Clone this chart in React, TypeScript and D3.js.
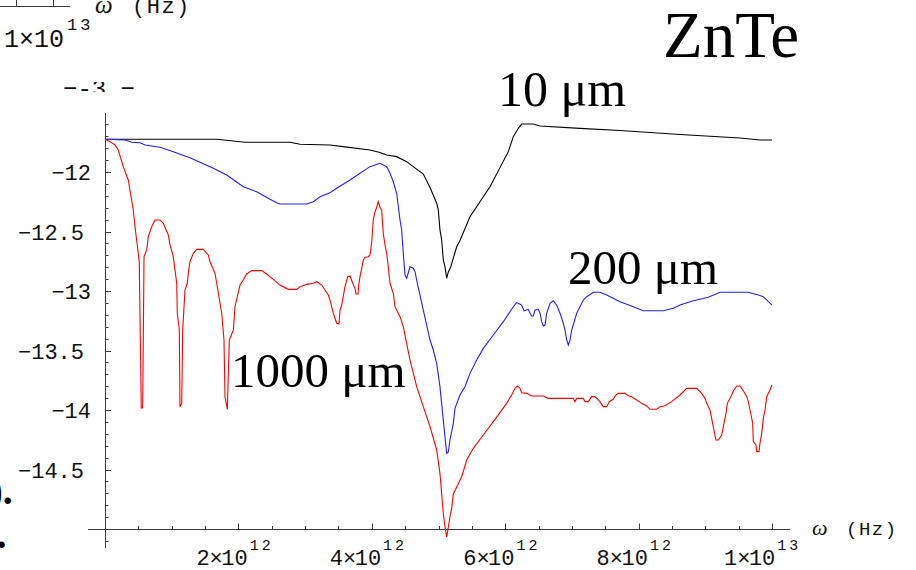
import React from "react";
import * as d3 from "d3";

// ω in units of 10^12 Hz, value = log10 of the quantity
const curve10um: [number, number][] = [
  [0, -11.725], [1.675, -11.725], [2.099, -11.75], [2.774, -11.75], [2.924, -11.767], [3.373, -11.773],
  [3.568, -11.787], [3.973, -11.815], [4.123, -11.836], [4.223, -11.857], [4.373, -11.871], [4.523, -11.913],
  [4.622, -11.955], [4.772, -12.017], [4.873, -12.13], [4.973, -12.263], [4.997, -12.319], [5.022, -12.487],
  [5.048, -12.571], [5.072, -12.739], [5.097, -12.796], [5.123, -12.893], [5.147, -12.84], [5.183, -12.798],
  [5.222, -12.723], [5.273, -12.628], [5.322, -12.576], [5.472, -12.376], [5.772, -12.124], [6.047, -11.829],
  [6.121, -11.703], [6.196, -11.633], [6.247, -11.597], [6.421, -11.597], [6.522, -11.613], [7.121, -11.633],
  [7.721, -11.651], [8.621, -11.685], [9.52, -11.714], [9.82, -11.731], [10.0, -11.731],
];

const curve200um: [number, number][] = [
  [0, -11.725], [0.3, -11.731], [0.4, -11.75], [0.525, -11.754], [0.6, -11.773], [0.825, -11.792],
  [1.024, -11.829], [1.274, -11.88], [1.424, -11.918], [1.624, -11.969], [1.825, -12.025], [2.073, -12.124],
  [2.274, -12.166], [2.474, -12.229], [2.574, -12.258], [2.624, -12.269], [3.024, -12.269], [3.123, -12.25],
  [3.223, -12.208], [3.373, -12.174], [3.474, -12.137], [3.673, -12.067], [3.823, -12.011], [3.973, -11.955],
  [4.123, -11.927], [4.223, -11.955], [4.273, -12.011], [4.322, -12.082], [4.373, -12.179], [4.423, -12.403],
  [4.448, -12.487], [4.472, -12.683], [4.498, -12.866], [4.523, -12.893], [4.573, -12.796], [4.622, -12.809],
  [4.648, -12.838], [4.673, -12.908], [4.772, -13.16], [4.873, -13.412], [4.922, -13.496], [4.973, -13.608],
  [5.022, -13.804], [5.072, -14.084], [5.097, -14.224], [5.123, -14.364], [5.147, -14.353], [5.172, -14.252],
  [5.222, -14.112], [5.247, -13.986], [5.322, -13.874], [5.397, -13.804], [5.472, -13.692], [5.573, -13.58],
  [5.672, -13.482], [5.822, -13.37], [5.972, -13.258], [6.121, -13.132], [6.172, -13.098], [6.196, -13.103],
  [6.247, -13.118], [6.282, -13.166], [6.346, -13.154], [6.372, -13.187], [6.397, -13.21], [6.421, -13.21],
  [6.447, -13.16], [6.496, -13.154], [6.522, -13.187], [6.547, -13.258], [6.571, -13.294], [6.597, -13.286],
  [6.622, -13.187], [6.672, -13.103], [6.721, -13.082], [6.772, -13.118], [6.822, -13.187], [6.871, -13.271],
  [6.897, -13.328], [6.922, -13.412], [6.946, -13.454], [6.972, -13.412], [6.997, -13.328], [7.072, -13.187],
  [7.171, -13.076], [7.222, -13.048], [7.321, -13.011], [7.421, -13.011], [7.522, -13.034], [7.721, -13.09],
  [7.921, -13.132], [8.07, -13.166], [8.37, -13.166], [8.52, -13.145], [8.621, -13.118], [8.82, -13.082],
  [9.045, -13.053], [9.22, -13.011], [9.645, -13.011], [9.795, -13.034], [9.87, -13.048], [10.0, -13.118],
];

const curve1000um: [number, number][] = [
  [0, -11.725], [0.075, -11.745], [0.15, -11.773], [0.199, -11.815], [0.274, -11.955], [0.349, -12.067],
  [0.424, -12.319], [0.45, -12.46], [0.499, -12.683], [0.514, -12.767], [0.544, -13.983], [0.565, -13.983],
  [0.585, -12.712], [0.625, -12.655], [0.649, -12.544], [0.7, -12.46], [0.75, -12.403], [0.825, -12.403],
  [0.874, -12.431], [0.949, -12.529], [0.975, -12.613], [1.024, -12.712], [1.075, -12.935], [1.084, -13.187],
  [1.114, -13.328], [1.124, -13.972], [1.15, -13.944], [1.165, -13.328], [1.199, -12.992], [1.234, -12.935],
  [1.249, -12.851], [1.274, -12.754], [1.324, -12.683], [1.375, -12.65], [1.474, -12.65], [1.549, -12.697],
  [1.574, -12.754], [1.649, -12.851], [1.675, -12.935], [1.75, -13.187], [1.784, -13.412], [1.799, -13.888],
  [1.834, -13.994], [1.864, -13.412], [1.924, -13.328], [1.949, -13.132], [2.024, -12.95], [2.073, -12.908],
  [2.124, -12.857], [2.199, -12.829], [2.349, -12.829], [2.424, -12.857], [2.523, -12.902], [2.624, -12.95],
  [2.748, -12.986], [2.874, -12.986], [2.924, -12.964], [3.024, -12.944], [3.123, -12.935], [3.174, -12.922],
  [3.249, -12.95], [3.298, -12.992], [3.348, -13.034], [3.373, -13.076], [3.423, -13.187], [3.474, -13.271],
  [3.508, -13.277], [3.523, -13.16], [3.549, -13.118], [3.598, -12.964], [3.639, -12.88], [3.673, -12.874],
  [3.714, -12.935], [3.748, -12.977], [3.763, -13.025], [3.793, -13.025], [3.804, -12.95], [3.823, -12.88],
  [3.849, -12.809], [3.873, -12.739], [3.898, -12.717], [3.948, -12.712], [3.973, -12.697], [3.999, -12.586],
  [4.022, -12.403], [4.048, -12.334], [4.073, -12.297], [4.097, -12.25], [4.123, -12.297], [4.148, -12.319],
  [4.172, -12.515], [4.198, -12.613], [4.223, -12.683], [4.247, -12.796], [4.273, -12.935], [4.322, -13.019],
  [4.348, -13.132], [4.373, -13.16], [4.423, -13.216], [4.472, -13.3], [4.573, -13.58], [4.673, -13.804],
  [4.772, -13.972], [4.873, -14.14], [4.973, -14.336], [5.022, -14.532], [5.072, -14.868], [5.097, -14.981],
  [5.123, -15.067], [5.147, -14.983], [5.172, -14.897], [5.198, -14.826], [5.222, -14.706], [5.273, -14.647],
  [5.348, -14.561], [5.423, -14.42], [5.522, -14.322], [5.672, -14.21], [5.822, -14.098], [6.022, -13.944],
  [6.097, -13.874], [6.147, -13.818], [6.182, -13.798], [6.222, -13.818], [6.247, -13.855], [6.322, -13.86],
  [6.397, -13.882], [6.571, -13.882], [6.646, -13.902], [7.021, -13.902], [7.046, -13.93], [7.072, -13.902],
  [7.171, -13.902], [7.196, -13.93], [7.246, -13.93], [7.297, -13.888], [7.346, -13.888], [7.421, -13.93],
  [7.471, -13.972], [7.522, -13.972], [7.561, -13.93], [7.621, -13.908], [7.661, -13.874], [7.696, -13.86],
  [7.796, -13.86], [7.846, -13.88], [7.896, -13.888], [7.971, -13.916], [8.046, -13.944], [8.121, -13.966],
  [8.171, -13.994], [8.271, -13.994], [8.321, -13.972], [8.396, -13.964], [8.496, -13.93], [8.621, -13.874],
  [8.721, -13.818], [8.871, -13.818], [8.946, -13.86], [8.996, -13.902], [9.021, -13.944], [9.07, -14.0],
  [9.12, -14.14], [9.16, -14.252], [9.195, -14.252], [9.246, -14.21], [9.28, -14.112], [9.31, -14.028],
  [9.33, -13.944], [9.396, -13.874], [9.42, -13.84], [9.471, -13.798], [9.52, -13.798], [9.58, -13.846],
  [9.621, -13.888], [9.645, -13.93], [9.67, -14.0], [9.711, -14.112], [9.72, -14.266], [9.76, -14.294],
  [9.771, -14.35], [9.805, -14.35], [9.82, -14.28], [9.846, -14.196], [9.87, -14.07], [9.895, -14.0],
  [9.921, -13.888], [9.97, -13.832], [10.0, -13.79],
];

const xMajorTicks = [2, 4, 6, 8, 10];
const xMajorLabels = [["2", "12"], ["4", "12"], ["6", "12"], ["8", "12"], ["1", "13"]];
const yMajorTicks = [-14.5, -14, -13.5, -13, -12.5, -12];
const yMajorLabels = ["\u221214.5", "\u221214", "\u221213.5", "\u221213", "\u221212.5", "\u221212"];
const curveLabels = ["10 \u03bcm", "200 \u03bcm", "1000 \u03bcm"];
const titleText = "ZnTe";

const W = 916;
const H = 570;
const MONO = "'Liberation Mono', 'DejaVu Sans Mono', monospace";
const SERIF = "'Liberation Serif', 'DejaVu Serif', serif";

export default function App() {
  const x = d3.scaleLinear().domain([0, 10]).range([105, 772]);
  const y = d3.scaleLinear().domain([-15, -12]).range([529, 172]);
  const xAxisY = y(-15);
  const yAxisX = x(0);

  const line = d3
    .line<[number, number]>()
    .x((d) => x(d[0]))
    .y((d) => y(d[1]));

  const xMinor = d3.range(1, 21).map((i) => i * 0.5).filter((v) => !xMajorTicks.includes(v));
  const yMinor = d3
    .range(-151, -115)
    .map((i) => i / 10)
    .filter((v) => Math.abs(v + 15) > 1e-6 && !yMajorTicks.some((m) => Math.abs(m - v) < 1e-6));

  const axisColor = "#3a3a3a";

  return (
    <svg
      width={W}
      height={H}
      style={{ position: "absolute", left: 0, top: 0, background: "#fff" }}
    >
      <defs>
        <clipPath id="fragClip">
          <rect x={0} y={82} width={200} height={10} />
        </clipPath>
      </defs>
      <rect x={0} y={0} width={W} height={H} fill="#fff" />

      {/* fragment of the previous figure at the top-left */}
      <g>
        <line x1={0} x2={70} y1={6.5} y2={6.5} stroke={axisColor} strokeWidth={1} />
        <line x1={16.5} x2={16.5} y1={6.5} y2={0} stroke={axisColor} strokeWidth={1} />
        <line x1={53.5} x2={53.5} y1={6.5} y2={0} stroke={axisColor} strokeWidth={1} />
        <text x={4} y={47} fontFamily={MONO} fontSize={25} fill="#111">
          1×10
          <tspan fontSize={17} dx={3} dy={-17} letterSpacing={3}>13</tspan>
        </text>
        <text x={95} y={13} fontFamily={SERIF} fontStyle="italic" fontSize={25} fill="#111">ω</text>
        <text x={132} y={13} fontFamily={MONO} fontSize={22} letterSpacing={1.5} fill="#111">(Hz)</text>
        <text x={63} y={96} fontFamily={MONO} fontSize={24} fill="#111" clipPath="url(#fragClip)">−-3 −</text>
      </g>

      {/* fragments of body text at the left edge */}
      <text x={-10.5} y={504} fontFamily={SERIF} fontWeight="bold" fontSize={40} fill="#000">).</text>
      <text x={-3.5} y={548} fontFamily={SERIF} fontWeight="bold" fontSize={40} fill="#000">.</text>

      {/* axes */}
      <line x1={88} x2={790} y1={xAxisY + 0.5} y2={xAxisY + 0.5} stroke={axisColor} strokeWidth={1} />
      <line x1={yAxisX + 0.5} x2={yAxisX + 0.5} y1={113} y2={548} stroke={axisColor} strokeWidth={1} />

      {xMinor.map((v) => (
        <line
          key={"xm" + v}
          x1={Math.round(x(v)) + 0.5}
          x2={Math.round(x(v)) + 0.5}
          y1={xAxisY + 0.5}
          y2={xAxisY - 3}
          stroke={axisColor}
          strokeWidth={1}
        />
      ))}
      {xMajorTicks.map((v, i) => (
        <g key={"xM" + v}>
          <line
            x1={Math.round(x(v)) + 0.5}
            x2={Math.round(x(v)) + 0.5}
            y1={xAxisY + 0.5}
            y2={xAxisY - 5.5}
            stroke={axisColor}
            strokeWidth={1}
          />
          <text
            x={x(v) - (v === 10 ? 48 : 42)}
            y={565}
            fontFamily={MONO}
            fontSize={22}
            fill="#111"
          >
            {xMajorLabels[i][0]}
            <tspan letterSpacing={-1.5}>×</tspan>
            10
            <tspan fontSize={15} dx={2} dy={-15} letterSpacing={3}>
              {xMajorLabels[i][1]}
            </tspan>
          </text>
        </g>
      ))}

      {yMinor.map((v) => (
        <line
          key={"ym" + v}
          x1={yAxisX}
          x2={yAxisX + 3.5}
          y1={Math.round(y(v)) + 0.5}
          y2={Math.round(y(v)) + 0.5}
          stroke={axisColor}
          strokeWidth={1}
        />
      ))}
      {yMajorTicks.map((v, i) => (
        <g key={"yM" + v}>
          <line
            x1={yAxisX}
            x2={yAxisX + 6}
            y1={Math.round(y(v)) + 0.5}
            y2={Math.round(y(v)) + 0.5}
            stroke={axisColor}
            strokeWidth={1}
          />
          <text
            x={Number.isInteger(v) ? 91 : 84}
            y={y(v) + 8}
            textAnchor="end"
            fontFamily={MONO}
            fontSize={22}
            fill="#111"
          >
            {yMajorLabels[i]}
          </text>
        </g>
      ))}

      <text x={812} y={535} fontFamily={SERIF} fontStyle="italic" fontSize={22} fill="#111">ω</text>
      <text x={846} y={535} fontFamily={MONO} fontSize={19} letterSpacing={1.5} fill="#111">(Hz)</text>

      {/* curves */}
      <path d={line(curve10um) || ""} fill="none" stroke="#000" strokeWidth={1.1} />
      <path d={line(curve200um) || ""} fill="none" stroke="#2020ff" strokeWidth={1.1} />
      <path d={line(curve1000um) || ""} fill="none" stroke="#ff0000" strokeWidth={1.1} />

      {/* labels */}
      <text x={663} y={56.5} fontFamily={SERIF} fontSize={65} fill="#000">{titleText}</text>
      <text x={498} y={106} fontFamily={SERIF} fontSize={50} fill="#000">{curveLabels[0]}</text>
      <text x={568} y={283.5} fontFamily={SERIF} fontSize={49} fill="#000">{curveLabels[1]}</text>
      <text x={231} y={387} fontFamily={SERIF} fontSize={49} fill="#000">{curveLabels[2]}</text>
    </svg>
  );
}
